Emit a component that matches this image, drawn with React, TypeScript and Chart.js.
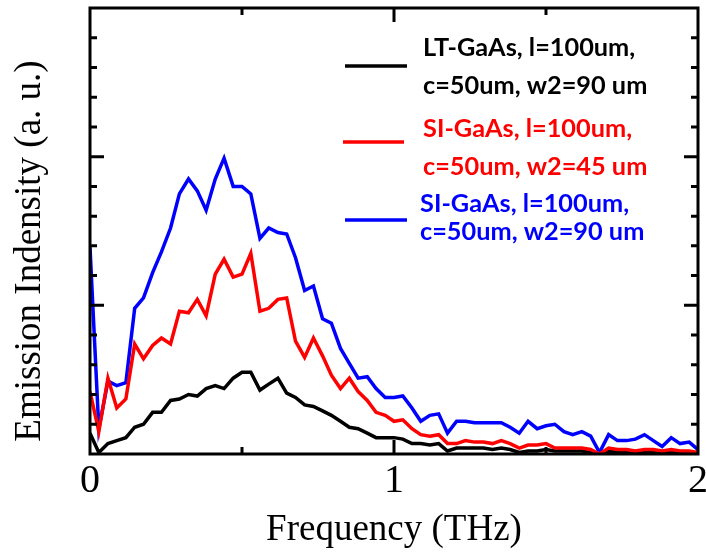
import React, { useEffect, useRef } from "react";
import { Chart, registerables } from "chart.js";

Chart.register(...registerables);

const freq = [
  0, 0.029, 0.059, 0.088, 0.118, 0.147, 0.176, 0.206, 0.235, 0.265,
  0.294, 0.324, 0.353, 0.382, 0.412, 0.441, 0.471, 0.5, 0.529, 0.559,
  0.588, 0.618, 0.647, 0.676, 0.706, 0.735, 0.765, 0.794, 0.824, 0.853,
  0.882, 0.912, 0.941, 0.971, 1.0, 1.029, 1.059, 1.088, 1.118, 1.147,
  1.176, 1.206, 1.235, 1.265, 1.294, 1.324, 1.353, 1.382, 1.412, 1.441,
  1.471, 1.5, 1.529, 1.559, 1.588, 1.618, 1.647, 1.676, 1.706, 1.735,
  1.765, 1.794, 1.824, 1.853, 1.882, 1.912, 1.941, 1.971, 2.0,
];

const ltGaAsW90 = [
  0.14, 0.01, 0.07, 0.09, 0.11, 0.18, 0.2, 0.28, 0.28, 0.36,
  0.37, 0.4, 0.39, 0.44, 0.46, 0.44, 0.51, 0.55, 0.55, 0.43,
  0.47, 0.51, 0.41, 0.38, 0.33, 0.32, 0.29, 0.26, 0.22, 0.18,
  0.17, 0.14, 0.11, 0.11, 0.11, 0.1, 0.07, 0.07, 0.06, 0.07,
  0.02, 0.04, 0.04, 0.04, 0.04, 0.03, 0.04, 0.03, 0.01, 0.02,
  0.02, 0.03, 0.02, 0.02, 0.02, 0.02, 0.01, 0.0, 0.02, 0.01,
  0.01, 0.01, 0.02, 0.01, 0.01, 0.01, 0.01, 0.01, 0.0,
];

const siGaAsW45 = [
  0.42, 0.15, 0.51, 0.31, 0.37, 0.74, 0.64, 0.73, 0.78, 0.74,
  0.96, 0.95, 1.04, 0.93, 1.21, 1.31, 1.19, 1.21, 1.35, 0.96,
  0.98, 1.04, 1.05, 0.76, 0.65, 0.78, 0.66, 0.53, 0.44, 0.51,
  0.42, 0.36, 0.28, 0.26, 0.22, 0.23, 0.17, 0.13, 0.12, 0.13,
  0.07, 0.07, 0.09, 0.08, 0.08, 0.07, 0.09, 0.07, 0.04, 0.06,
  0.06, 0.07, 0.04, 0.04, 0.04, 0.04, 0.03, 0.0, 0.04, 0.03,
  0.03, 0.02, 0.03, 0.03, 0.02, 0.03, 0.02, 0.02, 0.01,
];

const siGaAsW90 = [
  1.39, 0.17, 0.49, 0.46, 0.48, 0.98, 1.05, 1.22, 1.36, 1.52,
  1.75, 1.85, 1.77, 1.64, 1.85, 1.99, 1.8, 1.8, 1.75, 1.45,
  1.52, 1.49, 1.48, 1.32, 1.1, 1.13, 0.91, 0.88, 0.71, 0.61,
  0.51, 0.52, 0.44, 0.38, 0.38, 0.39, 0.31, 0.22, 0.26, 0.27,
  0.14, 0.22, 0.22, 0.21, 0.21, 0.21, 0.21, 0.18, 0.14, 0.22,
  0.17, 0.19, 0.2, 0.15, 0.13, 0.15, 0.12, 0.01, 0.13, 0.09,
  0.09, 0.1, 0.13, 0.09, 0.05, 0.11, 0.07, 0.08, 0.03,
];

const xTickLabels = ["0", "1", "2"];
const xMinorTicks = [0.5, 1.5];
const legendLabels = [
  ["LT-GaAs, l=100um,", "c=50um, w2=90 um"],
  ["SI-GaAs, l=100um,", "c=50um, w2=45 um"],
  ["SI-GaAs, l=100um,", "c=50um, w2=90 um"],
];
const seriesColors = ["#000000", "#ff0000", "#0000ff"];
const xTitle = "Frequency (THz)";
const yTitle = "Emission Indensity (a. u.)";

const SERIF = "'Liberation Serif', 'Times New Roman', serif";
const SANS = "Lato, 'Open Sans', sans-serif";

const toPoints = (ys: number[]) => ys.map((y, i) => ({ x: freq[i], y }));

const framePlugin = {
  id: "frameAndLegend",
  afterDraw(chart: any) {
    const { ctx, chartArea } = chart;
    const { left, right, top, bottom } = chartArea;
    const xs = chart.scales.x;
    const ys = chart.scales.y;
    ctx.save();
    ctx.strokeStyle = "#000";
    ctx.lineWidth = 3;
    ctx.strokeRect(left, top, right - left, bottom - top);

    ys.ticks.forEach((t: any) => {
      const v = t.value;
      const py = ys.getPixelForValue(v);
      if (v <= 0.0001 || v >= 2.9999) return;
      const major = Math.abs(v - Math.round(v)) < 1e-6;
      const len = major ? 14 : 7;
      ctx.beginPath();
      ctx.moveTo(left, py);
      ctx.lineTo(left + len, py);
      ctx.moveTo(right, py);
      ctx.lineTo(right - len, py);
      ctx.stroke();
    });
    const drawX = (v: number, len: number) => {
      const px = xs.getPixelForValue(v);
      ctx.beginPath();
      ctx.moveTo(px, bottom);
      ctx.lineTo(px, bottom - len);
      ctx.moveTo(px, top);
      ctx.lineTo(px, top + len);
      ctx.stroke();
    };
    xs.ticks.forEach((t: any) => {
      if (t.value > 0 && t.value < 2) drawX(t.value, 14);
    });
    xMinorTicks.forEach((v) => drawX(v, 7));

    ctx.save();
    ctx.translate(left - 60, (top + bottom) / 2 + 20);
    ctx.rotate(-Math.PI / 2);
    ctx.fillStyle = "#000";
    ctx.font = `37px ${SERIF}`;
    ctx.textAlign = "center";
    ctx.textBaseline = "middle";
    ctx.fillText(yTitle, 0, 0);
    ctx.restore();

    const lineY = [66, 142, 220];
    const lineX = [[345, 407], [343, 404], [345, 407]];
    const textX = [423, 423, 420];
    const base = [[56, 94], [137, 175], [212, 240]];
    ctx.font = `bold 22px ${SANS}`;
    const w = ctx.measureText(legendLabels[0][0]).width;
    const size = 22 * 212 / w;
    ctx.font = `bold ${size.toFixed(1)}px ${SANS}`;
    ctx.textAlign = "left";
    ctx.textBaseline = "alphabetic";
    for (let i = 0; i < 3; i++) {
      ctx.strokeStyle = seriesColors[i];
      ctx.lineWidth = 3.5;
      ctx.beginPath();
      ctx.moveTo(lineX[i][0], lineY[i]);
      ctx.lineTo(lineX[i][1], lineY[i]);
      ctx.stroke();
      ctx.fillStyle = seriesColors[i];
      ctx.fillText(legendLabels[i][0], textX[i], base[i][0]);
      ctx.fillText(legendLabels[i][1], textX[i], base[i][1]);
    }
    ctx.restore();
  },
};

export default function App() {
  const ref = useRef<HTMLCanvasElement | null>(null);
  useEffect(() => {
    if (!ref.current) return;
    const mk = (label: string, ys: number[], color: string) => ({
      label,
      data: toPoints(ys),
      borderColor: color,
      borderWidth: 3.5,
      pointRadius: 0,
      tension: 0,
      fill: false,
    });
    const chart = new Chart(ref.current, {
      type: "line",
      data: {
        datasets: [
          mk(legendLabels[1].join(" "), siGaAsW45, seriesColors[1]),
          mk(legendLabels[2].join(" "), siGaAsW90, seriesColors[2]),
          mk(legendLabels[0].join(" "), ltGaAsW90, seriesColors[0]),
        ],
      },
      options: {
        animation: false,
        responsive: false,
        devicePixelRatio: 1,
        layout: { padding: { top: 8, right: 8, left: 0, bottom: 0 } },
        plugins: { legend: { display: false }, tooltip: { enabled: false } },
        scales: {
          x: {
            type: "linear",
            min: 0,
            max: 2,
            grid: { display: false, drawTicks: false },
            border: { display: false },
            ticks: {
              stepSize: 1,
              padding: 3,
              color: "#000",
              font: { family: SERIF, size: 40 },
              maxRotation: 0,
              callback: (v: any) => xTickLabels[Math.round(Number(v))] ?? "",
            },
            title: {
              display: true,
              text: xTitle,
              color: "#000",
              font: { family: SERIF, size: 37 },
              padding: 0,
            },
            afterFit: (s: any) => {
              s.height = 98;
              s.paddingLeft = 0;
              s.paddingRight = 0;
            },
          },
          y: {
            type: "linear",
            min: 0,
            max: 3,
            grid: { display: false, drawTicks: false },
            border: { display: false },
            ticks: { display: false, stepSize: 0.2 },
            afterFit: (s: any) => {
              s.width = 90;
              s.paddingTop = 0;
              s.paddingBottom = 0;
            },
          },
        },
      },
      plugins: [framePlugin],
    });
    return () => chart.destroy();
  }, []);
  return (
    <div style={{ position: "absolute", left: 0, top: 0, width: 706, height: 552, background: "#fff" }}>
      <canvas ref={ref} width={706} height={552} />
    </div>
  );
}
